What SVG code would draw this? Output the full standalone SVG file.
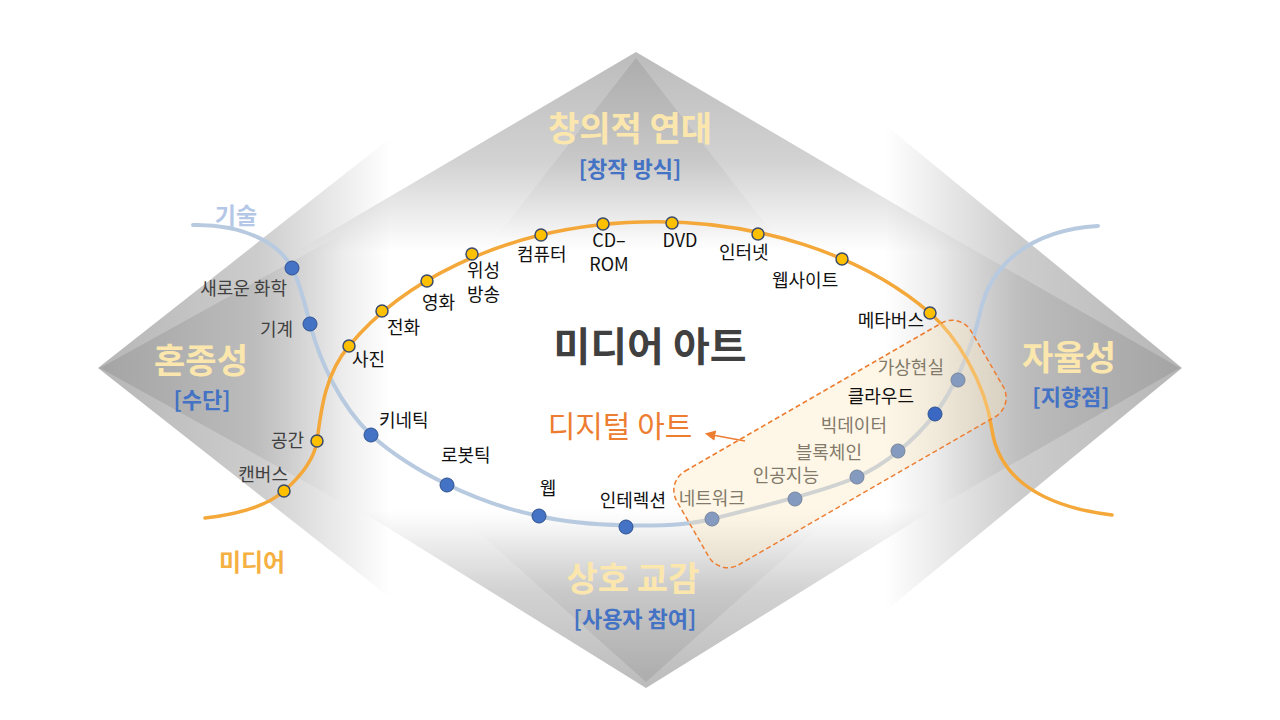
<svg xmlns="http://www.w3.org/2000/svg" width="1280" height="720" viewBox="0 0 1280 720">
<defs>
<style>
text{font-family:'Noto Sans CJK KR','Noto Sans',sans-serif}
.lbl{font-size:18px;fill:#111}
.lg{fill:#404040}
.ttl{font-size:34px;font-weight:bold;fill:#fbe7ad;text-anchor:middle}
.sub{font-size:22px;font-weight:bold;fill:#4472c4;text-anchor:middle}
.dO{fill:#ffc000;stroke:#3c4b6b;stroke-width:1.5}
.dB{fill:#4472c4;stroke:#2f528f;stroke-width:1}
</style>
<linearGradient id="gLo" gradientUnits="userSpaceOnUse" x1="98" y1="0" x2="390" y2="0"><stop offset="0" stop-color="#8f8f8f" stop-opacity="0.65"/><stop offset="0.55" stop-color="#8f8f8f" stop-opacity="0.45"/><stop offset="1" stop-color="#8f8f8f" stop-opacity="0"/></linearGradient>
<linearGradient id="gLi" gradientUnits="userSpaceOnUse" x1="98" y1="0" x2="345" y2="0"><stop offset="0" stop-color="#7a7a7a" stop-opacity="0.3"/><stop offset="0.6" stop-color="#7a7a7a" stop-opacity="0.2"/><stop offset="1" stop-color="#7a7a7a" stop-opacity="0"/></linearGradient>
<linearGradient id="gRo" gradientUnits="userSpaceOnUse" x1="1182" y1="0" x2="885" y2="0"><stop offset="0" stop-color="#8f8f8f" stop-opacity="0.65"/><stop offset="0.55" stop-color="#8f8f8f" stop-opacity="0.45"/><stop offset="1" stop-color="#8f8f8f" stop-opacity="0"/></linearGradient>
<linearGradient id="gRi" gradientUnits="userSpaceOnUse" x1="1182" y1="0" x2="935" y2="0"><stop offset="0" stop-color="#7a7a7a" stop-opacity="0.3"/><stop offset="0.6" stop-color="#7a7a7a" stop-opacity="0.2"/><stop offset="1" stop-color="#7a7a7a" stop-opacity="0"/></linearGradient>
<linearGradient id="gTo" gradientUnits="userSpaceOnUse" x1="0" y1="52" x2="0" y2="252"><stop offset="0" stop-color="#8f8f8f" stop-opacity="0.6"/><stop offset="0.55" stop-color="#8f8f8f" stop-opacity="0.4"/><stop offset="1" stop-color="#8f8f8f" stop-opacity="0"/></linearGradient>
<linearGradient id="gTi" gradientUnits="userSpaceOnUse" x1="0" y1="52" x2="0" y2="240"><stop offset="0" stop-color="#7a7a7a" stop-opacity="0.25"/><stop offset="1" stop-color="#7a7a7a" stop-opacity="0"/></linearGradient>
<linearGradient id="gBo" gradientUnits="userSpaceOnUse" x1="0" y1="688" x2="0" y2="510"><stop offset="0" stop-color="#8f8f8f" stop-opacity="0.6"/><stop offset="0.55" stop-color="#8f8f8f" stop-opacity="0.4"/><stop offset="1" stop-color="#8f8f8f" stop-opacity="0"/></linearGradient>
<linearGradient id="gBi" gradientUnits="userSpaceOnUse" x1="0" y1="688" x2="0" y2="525"><stop offset="0" stop-color="#7a7a7a" stop-opacity="0.25"/><stop offset="1" stop-color="#7a7a7a" stop-opacity="0"/></linearGradient>
<marker id="ah" viewBox="0 0 10 10" refX="8" refY="5" markerWidth="7" markerHeight="7" orient="auto"><path d="M0,0 L10,5 L0,10 z" fill="#ed7d31"/></marker>
</defs>
<rect width="1280" height="720" fill="#ffffff"/>
<g id="background">
<polygon points="636,52 214,300 1058,300" fill="url(#gTo)"/>
<polygon points="636,58 447,300 825,300" fill="url(#gTi)"/>
<polygon points="646,688 311,480 981,480" fill="url(#gBo)"/>
<polygon points="646,682 420,480 872,480" fill="url(#gBi)"/>
<polygon points="98,368 430,107 430,629" fill="url(#gLo)"/>
<polygon points="100,368 430,185 430,551" fill="url(#gLi)"/>
<polygon points="1182,368 850,96 850,640" fill="url(#gRo)"/>
<polygon points="1180,368 850,179 850,557" fill="url(#gRi)"/>
</g>
<g id="connectors" fill="none" stroke-linecap="round">
<path id="tech-line" d="M193,225 C245,224 280,244 292,268 C301,286 305,305 310,324 C320,362 340,405 371,435 C410,470 475,503 539,516 C580,526 670,530 712,519 C760,507 825,491 857,477 C885,465 915,440 935,414 C952,392 972,350 980,313 C990,265 1030,230 1098,226" stroke="#b8cadf" stroke-width="4"/>
<path id="media-line" d="M205,518 C240,514 268,505 284,491 C300,477 314,460 317,441 C321,410 325,374 349,346 A354,248 0 0 1 930,313 C955,335 985,380 992,430 C998,470 1030,505 1112,515" stroke="#f4a83a" stroke-width="3.5"/>
</g>
<g id="node-saeroun" class="node"><circle class="dB" cx="292" cy="268" r="7"/><text class="lbl lg" x="287" y="295" text-anchor="end">새로운 화학</text></g>
<g id="node-gigye" class="node"><circle class="dB" cx="310" cy="324" r="7"/><text class="lbl lg" x="293" y="336" text-anchor="end">기계</text></g>
<g id="node-kinetic" class="node"><circle class="dB" cx="371" cy="435" r="7"/><text class="lbl" x="379" y="427">키네틱</text></g>
<g id="node-robotic" class="node"><circle class="dB" cx="447" cy="485" r="7"/><text class="lbl" x="441" y="462">로봇틱</text></g>
<g id="node-web" class="node"><circle class="dB" cx="539" cy="516" r="7"/><text class="lbl" x="548" y="495" text-anchor="middle">웹</text></g>
<g id="node-interaction" class="node"><circle class="dB" cx="626" cy="527" r="7"/><text class="lbl" x="666" y="507" text-anchor="end">인테렉션</text></g>
<g id="node-network" class="node"><circle class="dB" cx="712" cy="519" r="7"/><text class="lbl lg" x="745" y="505" text-anchor="end">네트워크</text></g>
<g id="node-ai" class="node"><circle class="dB" cx="795" cy="499" r="7"/><text class="lbl lg" x="819" y="482" text-anchor="end">인공지능</text></g>
<g id="node-blockchain" class="node"><circle class="dB" cx="857" cy="477" r="7"/><text class="lbl lg" x="862" y="459" text-anchor="end">블록체인</text></g>
<g id="node-bigdata" class="node"><circle class="dB" cx="898" cy="451" r="7"/><text class="lbl lg" x="887" y="432" text-anchor="end">빅데이터</text></g>
<g id="node-vr" class="node"><circle class="dB" cx="958" cy="380" r="7"/><text class="lbl lg" x="944" y="374" text-anchor="end">가상현실</text></g>
<g id="node-canvas" class="node"><circle class="dO" cx="284" cy="491" r="6"/><text class="lbl lg" x="288" y="481" text-anchor="end">캔버스</text></g>
<g id="node-space" class="node"><circle class="dO" cx="317" cy="441" r="6"/><text class="lbl lg" x="304" y="447" text-anchor="end">공간</text></g>
<g id="node-photo" class="node"><circle class="dO" cx="349" cy="346" r="6"/><text class="lbl" x="352" y="366">사진</text></g>
<g id="node-phone" class="node"><circle class="dO" cx="382" cy="311" r="6"/><text class="lbl" x="387" y="334">전화</text></g>
<g id="node-film" class="node"><circle class="dO" cx="427" cy="281" r="6"/><text class="lbl" x="422" y="309">영화</text></g>
<g id="node-satellite" class="node"><circle class="dO" cx="472" cy="254" r="6"/><text class="lbl" x="467" y="277">위성</text><text class="lbl" x="467" y="301">방송</text></g>
<g id="node-computer" class="node"><circle class="dO" cx="541" cy="235" r="6"/><text class="lbl" x="517" y="261">컴퓨터</text></g>
<g id="node-cdrom" class="node"><circle class="dO" cx="603" cy="224" r="6"/><text class="lbl" x="609" y="247" text-anchor="middle">CD–</text><text class="lbl" x="609" y="271" text-anchor="middle">ROM</text></g>
<g id="node-dvd" class="node"><circle class="dO" cx="672" cy="223" r="6"/><text class="lbl" x="680" y="247" text-anchor="middle">DVD</text></g>
<g id="node-internet" class="node"><circle class="dO" cx="758" cy="234" r="6"/><text class="lbl" x="719" y="259">인터넷</text></g>
<g id="node-website" class="node"><circle class="dO" cx="842" cy="259" r="6"/><text class="lbl" x="772" y="287">웹사이트</text></g>
<g id="node-metaverse" class="node"><circle class="dO" cx="930" cy="313" r="6"/><text class="lbl" x="924" y="327" text-anchor="end">메타버스</text></g>
<g id="digital-art-box"><rect x="-170" y="-54" width="340" height="108" rx="22" transform="translate(840,444) rotate(-30)" fill="#fbe5b6" fill-opacity="0.35" stroke="#ed7d31" stroke-width="1.5" stroke-dasharray="5 3"/></g>
<g id="node-cloud" class="node"><circle cx="935" cy="414" r="7" fill="#3a68c2" stroke="#2f528f" stroke-width="1"/><text class="lbl" x="914" y="403" text-anchor="end">클라우드</text></g>
<g id="arrow"><line x1="745" y1="441" x2="707" y2="434" stroke="#ed7d31" stroke-width="1.5" marker-end="url(#ah)"/></g>
<g id="title-media-art"><text x="650" y="361" text-anchor="middle" font-size="40" font-weight="bold" fill="#404040">미디어 아트</text></g>
<g id="title-digital-art"><text x="620" y="437" text-anchor="middle" font-size="30" fill="#ed7d31">디지털 아트</text></g>
<g id="label-tech"><text x="236" y="224" text-anchor="middle" font-size="23" font-weight="bold" fill="#b4c7e7">기술</text></g>
<g id="label-media"><text x="252" y="571" text-anchor="middle" font-size="24" font-weight="bold" fill="#f5b042">미디어</text></g>
<g id="top-axis"><text class="ttl" x="630" y="141">창의적 연대</text><text class="sub" x="630" y="177">[창작 방식]</text></g>
<g id="left-axis"><text class="ttl" x="201" y="373">혼종성</text><text class="sub" x="202" y="408">[수단]</text></g>
<g id="right-axis"><text class="ttl" x="1069" y="370">자율성</text><text class="sub" x="1071" y="405">[지향점]</text></g>
<g id="bottom-axis"><text class="ttl" x="633" y="591">상호 교감</text><text class="sub" x="635" y="627">[사용자 참여]</text></g>
</svg>
